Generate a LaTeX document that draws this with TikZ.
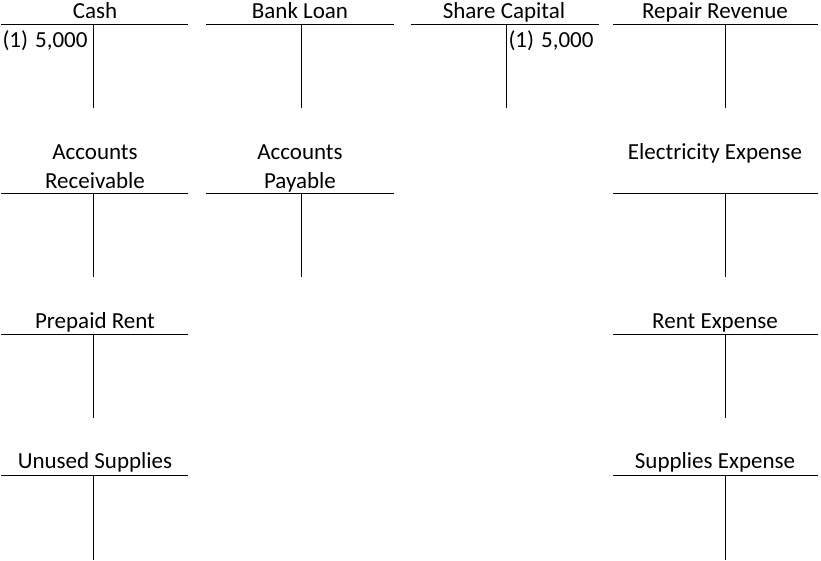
\documentclass[tikz,border=0pt]{standalone}
\usepackage{fontspec}
\setmainfont{Carlito}

\begin{document}
\begin{tikzpicture}[x=1pt, y=-1pt, line width=1pt,
  title/.style={anchor=base, inner sep=0pt, align=center,
    font=\fontsize{23}{29}\selectfont},
  entry/.style={anchor=base west, inner sep=0pt,
    font=\fontsize{23}{28}\selectfont}]

  \useasboundingbox (0,0) rectangle (821,560);

  % T-Konten: linker Rand, Mitte, rechter Rand, Oberkante
  % Zeile 1
  \draw (1,24) -- (188,24)   (93,24) -- (93,108);
  \draw (206,24) -- (394,24) (301,24) -- (301,108);
  \draw (411,24) -- (599,24) (506,24) -- (506,108);
  \draw (613,24) -- (818,24) (725,24) -- (725,108);
  % Zeile 2
  \draw (1,193) -- (188,193)   (93,193) -- (93,277);
  \draw (206,193) -- (394,193) (301,193) -- (301,277);
  \draw (613,193) -- (818,193) (725,193) -- (725,277);
  % Zeile 3
  \draw (1,334) -- (188,334)   (93,334) -- (93,418);
  \draw (613,334) -- (818,334) (725,334) -- (725,418);
  % Zeile 4
  \draw (1,475) -- (188,475)   (93,475) -- (93,560);
  \draw (613,475) -- (818,475) (725,475) -- (725,560);

  \node[title] (cash)    at (95,18)  {Cash};
  \node[title] (loan)    at (300,18) {Bank Loan};
  \node[title] (capital) at (504,18) {Share Capital};
  \node[title] (repair)  at (715,18) {Repair Revenue};

  \node[title] (receiv)  at (95,188)  {Accounts\\Receivable};
  \node[title] (payable) at (300,188) {Accounts\\Payable};
  \node[title] (elec)    at (715,159) {Electricity Expense};

  \node[title] (prepaid) at (95,328)  {Prepaid Rent};
  \node[title] (rent)    at (715,328) {Rent Expense};

  \node[title] (unused)  at (95,468)  {Unused Supplies};
  \node[title] (supply)  at (715,468) {Supplies Expense};

  % Buchung (1)
  \node[entry] (cash1)    at (2,47)   {(1)\hspace{7pt}5,000};
  \node[entry] (capital1) at (508,47) {(1)\hspace{7pt}5,000};
\end{tikzpicture}
\end{document}
